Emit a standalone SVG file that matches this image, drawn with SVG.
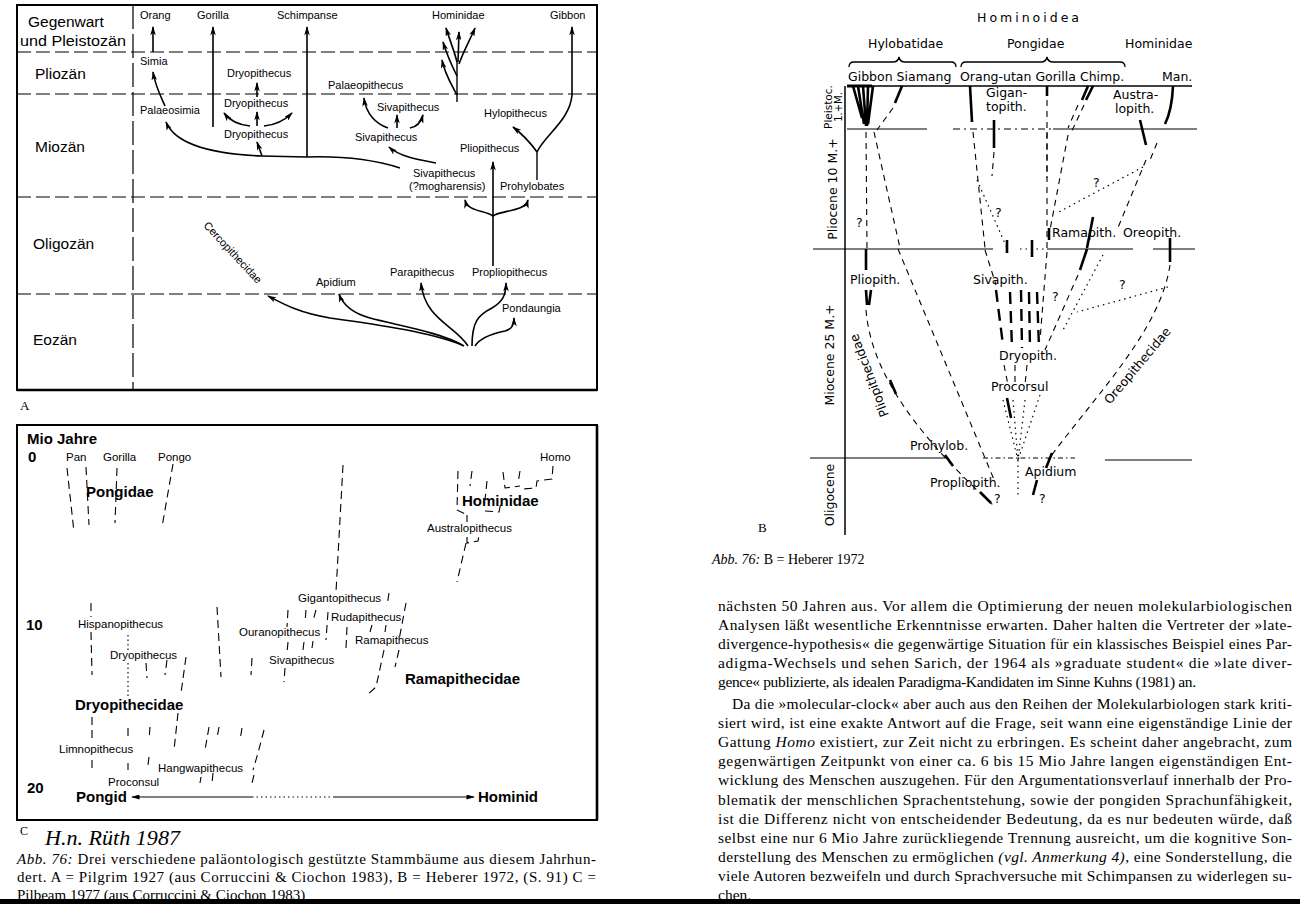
<svg xmlns="http://www.w3.org/2000/svg" width="1300" height="904" viewBox="0 0 1300 904">
<style>
text{fill:#000}
.sa{font-family:"Liberation Sans",Arial,sans-serif;font-size:11px}
.per{font-family:"Liberation Sans",Arial,sans-serif;font-size:15.5px}
.sc{font-family:"Liberation Sans",Arial,sans-serif;font-size:11.5px}
.bc{font-family:"Liberation Sans",Arial,sans-serif;font-size:15px;font-weight:bold}
.db{font-family:"DejaVu Sans",sans-serif;font-size:12.5px}
.se{font-family:"Liberation Serif","Times New Roman",serif}
.body{font-family:"Liberation Serif","Times New Roman",serif;font-size:15.5px}
.frame{fill:none;stroke:#000;stroke-width:2}
.perl{stroke:#000;stroke-width:1.2;stroke-dasharray:14 5;fill:none}
.ar{fill:none;stroke:#000;stroke-width:1.6;marker-end:url(#ah)}
.ln{fill:none;stroke:#000;stroke-width:1.4}
.cd{fill:none;stroke:#000;stroke-width:1.1;stroke-dasharray:8 5}
.cdot{fill:none;stroke:#000;stroke-width:1.1;stroke-dasharray:1.5 3}
.bd{fill:none;stroke:#000;stroke-width:1.1;stroke-dasharray:6 5}
.bdot{fill:none;stroke:#000;stroke-width:1.2;stroke-dasharray:1.5 4}
.bth{fill:none;stroke:#000;stroke-width:2.6}
.btd{fill:none;stroke:#000;stroke-width:2.4;stroke-dasharray:12 7}
</style>
<defs>
<marker id="ah" viewBox="0 0 10 6" refX="9" refY="3" markerWidth="10" markerHeight="5.5" markerUnits="userSpaceOnUse" orient="auto">
<path d="M0,0 L10,3 L0,6 L2.5,3 z" fill="#000"/>
</marker>
<marker id="ah2" viewBox="0 0 10 6" refX="9" refY="3" markerWidth="9" markerHeight="5" markerUnits="userSpaceOnUse" orient="auto-start-reverse">
<path d="M0,0 L10,3 L0,6 z" fill="#000"/>
</marker>
</defs>
<rect width="1300" height="904" fill="#fff"/>

<!-- ================= PANEL A ================= -->
<g id="panelA">
<rect x="17" y="5" width="580" height="385" class="frame"/>
<line x1="17" y1="390" x2="597" y2="390" stroke="#000" stroke-width="2.5"/>
<line x1="133" y1="5" x2="133" y2="390" stroke="#000" stroke-width="1.2" stroke-dasharray="24 5"/>
<g class="perl">
<line x1="17" y1="52" x2="597" y2="52"/>
<line x1="17" y1="94" x2="597" y2="94"/>
<line x1="17" y1="197" x2="597" y2="197"/>
<line x1="17" y1="294" x2="597" y2="294"/>
</g>
<g id="a-periods" class="per">
<text x="28" y="27">Gegenwart</text>
<text x="20" y="46" textLength="106" lengthAdjust="spacingAndGlyphs">und Pleistozän</text>
<text x="35" y="79">Pliozän</text>
<text x="35" y="152">Miozän</text>
<text x="33" y="249">Oligozän</text>
<text x="33" y="345">Eozän</text>
</g>
<g id="a-orang"><text class="sa" x="140" y="19">Orang</text></g>
<g id="a-gorilla"><text class="sa" x="197" y="19">Gorilla</text></g>
<g id="a-schimpanse"><text class="sa" x="277" y="19">Schimpanse</text></g>
<g id="a-hominidae"><text class="sa" x="432" y="19">Hominidae</text></g>
<g id="a-gibbon"><text class="sa" x="550" y="19">Gibbon</text></g>
<g id="a-simia"><text class="sa" x="140" y="65">Simia</text></g>
<g id="a-dryo1"><text class="sa" x="227" y="77">Dryopithecus</text></g>
<g id="a-palaeosimia"><text class="sa" x="140" y="114">Palaeosimia</text></g>
<g id="a-dryo2"><text class="sa" x="224" y="107">Dryopithecus</text></g>
<g id="a-dryo3"><text class="sa" x="224" y="138">Dryopithecus</text></g>
<g id="a-palaeopithecus"><text class="sa" x="328" y="89">Palaeopithecus</text></g>
<g id="a-siva1"><text class="sa" x="377" y="111">Sivapithecus</text></g>
<g id="a-siva2"><text class="sa" x="355" y="141">Sivapithecus</text></g>
<g id="a-hylopithecus"><text class="sa" x="484" y="117">Hylopithecus</text></g>
<g id="a-pliopithecus"><text class="sa" x="460" y="152">Pliopithecus</text></g>
<g id="a-siva3"><text class="sa" x="413" y="177">Sivapithecus</text><text class="sa" x="409" y="190">(?mogharensis)</text></g>
<g id="a-prohylobates"><text class="sa" x="500" y="190">Prohylobates</text></g>
<g id="a-cercopithecidae"><text class="sa" font-size="10.5" transform="translate(203,226) rotate(47)">Cercopithecidae</text></g>
<g id="a-apidium"><text class="sa" x="316" y="286">Apidium</text></g>
<g id="a-parapithecus"><text class="sa" x="390" y="276">Parapithecus</text></g>
<g id="a-propliopithecus"><text class="sa" x="472" y="276">Propliopithecus</text></g>
<g id="a-pondaungia"><text class="sa" x="502" y="312">Pondaungia</text></g>
<text class="se" font-size="13" x="20" y="410">A</text>
</g>
<g id="a-connectors">
<path class="ar" d="M153,52 L153,27"/>
<path class="ar" d="M213,127 L213,27"/>
<path class="ar" d="M307,157 L307,27"/>
<path class="ln" d="M537,180 L537,152"/>
<path class="ar" d="M537,152 C545,135 570,120 572,95 L572,27"/>
<path class="ar" d="M537,152 C530,142 522,134 513,127"/>
<path class="ar" d="M165,106 C160,95 155,85 153,72"/>
<path class="ar" d="M307,157 L262,156 C215,154 176,146 166,122"/>
<path class="ln" d="M307,157 C340,156 375,160 400,168"/>
<path class="ar" d="M262,156 L257,142"/>
<path class="ar" d="M257,126 L257,112"/>
<path class="ar" d="M250,126 C240,125 230,121 224,113"/>
<path class="ar" d="M264,126 C275,125 285,120 292,113"/>
<path class="ar" d="M257,97 L257,83"/>
<path class="ar" d="M388,128 C376,124 366,114 364,98"/>
<path class="ar" d="M397,128 L397,115"/>
<path class="ar" d="M410,128 C416,127 421,122 423,115"/>
<path class="ar" d="M436,163 C420,160 400,157 389,147"/>
<path class="ln" d="M457,102 L457,62"/>
<path class="ar" d="M457,95 C452,85 445,75 442,60"/>
<path class="ar" d="M457,76 C452,66 447,55 443,42"/>
<path class="ar" d="M457,62 C454,50 449,38 446,28"/>
<path class="ar" d="M458,62 L459,32"/>
<path class="ar" d="M459,64 C464,50 470,40 475,28"/>
<path class="ar" d="M493,266 L493,162"/>
<path class="ar" d="M493,216 C485,210 468,212 465,200"/>
<path class="ar" d="M493,216 C501,210 525,212 528,200"/>
<path class="ar" d="M462,345 C430,332 380,325 330,318 C300,313 285,305 268,296"/>
<path class="ar" d="M464,346 C440,332 400,326 370,318 C352,313 343,305 339,294"/>
<path class="ar" d="M468,346 C455,325 425,320 421,283"/>
<path class="ar" d="M472,346 C472,322 478,315 492,308 C502,302 506,296 506,283"/>
<path class="ar" d="M475,346 C480,338 490,334 505,331 C512,329 514,325 514,318"/>
</g>

<!-- ================= PANEL C ================= -->
<g id="panelC">
<rect x="17" y="425" width="580" height="395" class="frame"/>
<line x1="597" y1="425" x2="597" y2="820" stroke="#000" stroke-width="2.6"/>
<g id="c-axis" class="bc">
<text x="27" y="444">Mio Jahre</text>
<text x="28" y="462">0</text>
<text x="26" y="630">10</text>
<text x="27" y="793">20</text>
</g>
<g id="c-pan"><text class="sc" font-size="11" x="66" y="461">Pan</text></g>
<g id="c-gorilla"><text class="sc" font-size="11" x="103" y="461">Gorilla</text></g>
<g id="c-pongo"><text class="sc" font-size="11" x="158" y="461">Pongo</text></g>
<g id="c-pongidae"><text class="bc" x="86" y="497">Pongidae</text></g>
<g id="c-homo"><text class="sc" font-size="11" x="540" y="461">Homo</text></g>
<g id="c-hominidae"><text class="bc" x="462" y="506">Hominidae</text></g>
<g id="c-australopithecus"><text class="sc" x="427" y="532">Australopithecus</text></g>
<g id="c-gigantopithecus"><text class="sc" x="298" y="602">Gigantopithecus</text></g>
<g id="c-rudapithecus"><text class="sc" x="331" y="621">Rudapithecus</text></g>
<g id="c-ouranopithecus"><text class="sc" x="239" y="636">Ouranopithecus</text></g>
<g id="c-ramapithecus"><text class="sc" x="355" y="644">Ramapithecus</text></g>
<g id="c-hispanopithecus"><text class="sc" x="78" y="628">Hispanopithecus</text></g>
<g id="c-dryopithecus"><text class="sc" x="110" y="659">Dryopithecus</text></g>
<g id="c-sivapithecus"><text class="sc" x="269" y="664">Sivapithecus</text></g>
<g id="c-ramapithecidae"><text class="bc" x="405" y="684">Ramapithecidae</text></g>
<g id="c-dryopithecidae"><text class="bc" x="75" y="710">Dryopithecidae</text></g>
<g id="c-limnopithecus"><text class="sc" x="59" y="753">Limnopithecus</text></g>
<g id="c-hangwapithecus"><text class="sc" x="158" y="772">Hangwapithecus</text></g>
<g id="c-proconsul"><text class="sc" x="108" y="786">Proconsul</text></g>
<g id="c-pongid"><text class="bc" x="76" y="802">Pongid</text></g>
<g id="c-hominid"><text class="bc" x="478" y="802">Hominid</text></g>
<text class="se" font-size="12" x="20" y="835">C</text>
<text class="se" font-size="20" font-style="italic" x="45" y="845" textLength="135" lengthAdjust="spacingAndGlyphs">H.n. Rüth 1987</text>
</g>
<g id="c-connectors">
<path class="cd" d="M67,468 L74,532"/>
<path class="cd" d="M86,467 L89,525"/>
<path class="cd" d="M117,468 L115,523"/>
<path class="cd" d="M173,464 L162,527"/>
<path class="cd" d="M343,465 L336,592"/>
<path class="cd" d="M458,471 L457,510 L467,515"/>
<path class="cd" d="M472,471 L470,486"/>
<path class="cd" d="M487,481 L485,500"/>
<path class="cd" d="M485,511 L499,512 L501,502"/>
<path class="cd" d="M503,472 L505,488 L520,486"/>
<path class="cd" d="M520,471 L518,483"/>
<path class="cd" d="M553,466 L552,479 L537,481 L536,488 L522,489"/>
<path class="cd" d="M467,515 L467,522"/>
<path class="cd" d="M467,537 L467,543 L478,541 L479,535"/>
<path class="cd" d="M466,543 L457,582"/>
<path class="cd" d="M91,603 L91,617 M91,632 L92,675"/>
<path class="cdot" d="M128,635 L128,650 M128,663 L128,697"/>
<path class="cd" d="M146,663 L147,678"/>
<path class="cd" d="M167,660 L165,675"/>
<path class="cd" d="M186,657 L181,693"/>
<path class="cd" d="M217,607 L221,677"/>
<path class="cd" d="M252,658 L251,675"/>
<path class="cd" d="M288,610 L287,627 M288,642 L287,653 M285,668 L284,682"/>
<path class="cd" d="M306,610 L305,622 M316,610 L313,621 M304,642 L303,650 M313,641 L312,648"/>
<path class="cd" d="M328,612 L326,640"/>
<path class="cd" d="M347,627 L346,648"/>
<path class="cd" d="M389,593 L387,606"/>
<path class="cd" d="M372,625 L370,632 M386,625 L385,632"/>
<path class="cd" d="M406,603 L399,640"/>
<path class="cd" d="M384,650 L376,687 L366,696"/>
<path class="cd" d="M399,650 L395,667"/>
<path class="cd" d="M92,717 L92,743 M92,760 L92,772"/>
<path class="cd" d="M128,728 L128,740 M128,763 L128,770"/>
<path class="cd" d="M178,713 L174,750"/>
<path class="cd" d="M150,727 L149,740 M149,757 L148,765"/>
<path class="cd" d="M209,727 L205,750 M219,727 L217,738 M242,728 L240,740"/>
<path class="cd" d="M264,730 L258,753 L253,770"/>
<path class="cd" d="M201,777 L200,783 M213,773 L212,783 M254,775 L252,783"/>
<path fill="none" stroke="#000" stroke-width="1.2" marker-start="url(#ah2)" d="M132,797 L252,797"/>
<path class="cdot" d="M252,797 L333,797"/>
<path fill="none" stroke="#000" stroke-width="1.2" marker-end="url(#ah2)" d="M333,797 L474,797"/>
</g>
<g id="captionC" class="se" font-size="15">
<text x="17" y="864" textLength="579" lengthAdjust="spacing"><tspan font-style="italic">Abb. 76:</tspan> Drei verschiedene paläontologisch gestützte Stammbäume aus diesem Jahrhun-</text>
<text x="17" y="882" textLength="579" lengthAdjust="spacing">dert. A = Pilgrim 1927 (aus Corruccini &amp; Ciochon 1983), B = Heberer 1972, (S. 91) C =</text>
<text x="17" y="900">Pilbeam 1977 (aus Corruccini &amp; Ciochon 1983)</text>
</g>

<!-- ================= PANEL B ================= -->
<g id="panelB">
<g id="b-hominoidea"><text class="db" font-size="12" x="977" y="22" letter-spacing="3">Hominoidea</text></g>
<g id="b-hylobatidae"><text class="db" x="868" y="48">Hylobatidae</text></g>
<g id="b-pongidae"><text class="db" x="1007" y="48">Pongidae</text></g>
<g id="b-hominidae"><text class="db" x="1125" y="48">Hominidae</text></g>
<g id="b-braces" fill="none" stroke="#000" stroke-width="1.3">
<path d="M849,67 Q849,62 854,62 L893,62 Q898,62 899,57 Q900,62 905,62 L951,62 Q956,62 956,67"/>
<path d="M961,67 Q961,62 966,62 L1041,62 Q1046,62 1047,57 Q1048,62 1053,62 L1120,62 Q1125,62 1125,67"/>
</g>
<g id="b-gibbon"><text class="db" x="848" y="81">Gibbon Siamang</text></g>
<g id="b-pongids"><text class="db" x="960" y="81">Orang-utan Gorilla Chimp.</text></g>
<g id="b-man"><text class="db" x="1162" y="81">Man.</text></g>
<g id="b-scale" class="db" font-size="11.5">
<text font-size="10.5" text-anchor="middle" transform="translate(832,107) rotate(-90)">Pleistoc.</text>
<text font-size="10" text-anchor="middle" transform="translate(842,107) rotate(-90)">1.+M.</text>
<text text-anchor="middle" transform="translate(837,189) rotate(-90)">Pliocene 10 M.+</text>
<text text-anchor="middle" transform="translate(834,355) rotate(-90)">Miocene 25 M.+</text>
<text text-anchor="middle" transform="translate(834,495) rotate(-90)">Oligocene</text>
</g>
<g id="b-gigantopith"><text class="db" font-size="11.5" x="986" y="96.5">Gigan-</text><text class="db" font-size="11.5" x="986" y="110.5">topith.</text></g>
<g id="b-australopith"><text class="db" font-size="11.5" x="1113" y="98.5">Austra-</text><text class="db" font-size="11.5" x="1115" y="112.5">lopith.</text></g>
<g id="b-ramapith"><text class="db" x="1052" y="237">Ramapith.</text></g>
<g id="b-oreopith"><text class="db" x="1123" y="237">Oreopith.</text></g>
<g id="b-pliopith"><text class="db" x="850" y="284">Pliopith.</text></g>
<g id="b-sivapith"><text class="db" x="973" y="284">Sivapith.</text></g>
<g id="b-dryopith"><text class="db" x="999" y="360">Dryopith.</text></g>
<g id="b-procorsul"><text class="db" x="991" y="391">Procorsul</text></g>
<g id="b-prohylob"><text class="db" x="910" y="450">Prohylob.</text></g>
<g id="b-apidium"><text class="db" x="1025" y="476">Apidium</text></g>
<g id="b-propliopith"><text class="db" x="930" y="487">Propliopith.</text></g>
<g id="b-pliopithecidae"><text class="db" transform="translate(889,415) rotate(-111)">Pliopithecidae</text></g>
<g id="b-oreopithecidae"><text class="db" font-size="13" transform="translate(1110,405) rotate(-50)">Oreopithecidae</text></g>
<g id="b-q" class="db" font-size="12">
<text x="856" y="227">?</text>
<text x="995" y="217">?</text>
<text x="1093" y="187">?</text>
<text x="1052" y="301">?</text>
<text x="1119" y="289">?</text>
<text x="994" y="503">?</text>
<text x="1039" y="503">?</text>
</g>
<text class="se" font-size="13" x="758" y="532">B</text>
<text class="se" font-size="14" x="712" y="564"><tspan font-style="italic">Abb. 76:</tspan> B = Heberer 1972</text>
</g>
<g id="b-connectors">
<line x1="847" y1="86" x2="1192" y2="86" stroke="#000" stroke-width="1.3"/>
<line x1="847" y1="86" x2="872" y2="86" stroke="#000" stroke-width="3"/>
<line x1="847" y1="129" x2="927" y2="129" stroke="#000" stroke-width="1.2"/>
<line x1="953" y1="129" x2="1053" y2="129" stroke="#000" stroke-width="1.1" stroke-dasharray="7 4 2 4"/>
<line x1="1053" y1="129" x2="1197" y2="129" stroke="#000" stroke-width="1.2"/>
<line x1="813" y1="249" x2="993" y2="249" stroke="#000" stroke-width="1.2"/>
<line x1="1020" y1="249" x2="1046" y2="249" class="bdot"/>
<line x1="1047" y1="249" x2="1133" y2="249" stroke="#000" stroke-width="1.2"/>
<line x1="1153" y1="249" x2="1195" y2="249" stroke="#000" stroke-width="1.2"/>
<line x1="810" y1="458" x2="948" y2="458" stroke="#000" stroke-width="1.2"/>
<line x1="983" y1="458" x2="1075" y2="458" stroke="#000" stroke-width="1" stroke-dasharray="5 3 1.5 3"/>
<line x1="1105" y1="460" x2="1192" y2="460" stroke="#000" stroke-width="1.2"/>
<line x1="845" y1="86" x2="845" y2="535" stroke="#000" stroke-width="1.5"/>
<path class="bth" stroke-width="2" d="M853,86 L862,118 M858,86 L864,124 M863,86 L866,126 M868,86 L867,126 M873,86 L868,124"/>
<path class="bth" d="M902,86 L895,103"/>
<path class="bd" d="M893,108 L877,130"/>
<path class="bth" d="M970,86 L972,122"/>
<path class="bth" d="M994,120 L994,148"/>
<path class="bd" d="M994,152 L992,176"/>
<path class="bth" d="M1047,86 L1047,96"/>
<path class="bd" d="M1047,100 L1047,178"/>
<path class="bth" d="M1088,86 L1082,100 M1093,86 L1086,100"/>
<path class="bd" d="M1084,105 L1070,135 M1078,105 L1068,128"/>
<path class="bth" d="M1173,86 Q1172,110 1165,124"/>
<path class="bth" d="M1140,120 L1146,145"/>
<path class="bd" d="M1157,143 L1150,160"/>
<path class="bd" d="M866,132 L867,248"/>
<path class="bd" d="M874,132 L900,248"/>
<path class="bd" d="M973,132 L985,248"/>
<path class="bdot" d="M977,180 L1007,248"/>
<path class="bd" d="M1047,132 L1047,248"/>
<path class="bd" d="M1068,135 L1050,230"/>
<path class="bdot" d="M1143,167 L1057,213"/>
<path class="bd" d="M1146,160 L1117,230"/>
<path class="bth" d="M1093,217 L1087,248"/>
<path class="bth" d="M1170,238 L1170,262"/>
<path class="bth" d="M1049,228 L1049,240" stroke-width="1.5"/>
<path class="bth" d="M866,249 L866,270 M866,290 L867,305 M871,290 L869,305"/>
<path class="bd" d="M866,310 C870,360 900,420 993,505"/>
<path class="bth" d="M890,380 L896,394 M945,455 L953,466 M980,492 L991,503"/>
<path class="bd" d="M898,249 L995,482"/>
<path class="bth" d="M1007,240 L1007,253 M1032,240 L1032,257"/>
<path class="bd" d="M985,250 L996,285"/>
<path class="btd" d="M996,290 L1003,345 M1010,292 L1012,348 M1021,290 L1022,348 M1029,292 L1030,348 M1037,292 L1039,348"/>
<path class="bd" d="M1004,365 L1008,385 M1015,365 L1015,385 M1027,365 L1025,385"/>
<path class="bth" d="M1007,398 L1011,418"/>
<path class="bdot" d="M1003,400 L1018,460 M1013,400 L1018,460 M1025,400 L1018,460 M1040,395 L1018,460"/>
<path class="bdot" d="M1018,460 L1018,497"/>
<path class="bd" d="M1047,252 L1040,340"/>
<path class="bth" d="M1087,249 L1080,270"/>
<path class="bd" d="M1078,275 L1045,350"/>
<path class="bdot" d="M1168,287 L1077,312"/>
<path class="bdot" d="M1103,255 L1063,330"/>
<path class="bd" d="M1170,265 C1160,330 1100,390 1048,460"/>
<path class="bth" d="M1052,453 L1046,468"/>
<path class="bth" d="M1037,480 L1033,495"/>
</g>

<!-- ================= BODY TEXT ================= -->
<g id="bodytext" class="body">
<text x="718" y="611" textLength="574" lengthAdjust="spacing">nächsten 50 Jahren aus. Vor allem die Optimierung der neuen molekularbiologischen</text>
<text x="718" y="630.1" textLength="574" lengthAdjust="spacing">Analysen läßt wesentliche Erkenntnisse erwarten. Daher halten die Vertreter der »late-</text>
<text x="718" y="649.2" textLength="574" lengthAdjust="spacing">divergence-hypothesis« die gegenwärtige Situation für ein klassisches Beispiel eines Par-</text>
<text x="718" y="668.3" textLength="574" lengthAdjust="spacing">adigma-Wechsels und sehen Sarich, der 1964 als »graduate student« die »late diver-</text>
<text x="718" y="687.4" textLength="478" lengthAdjust="spacing">gence« publizierte, als idealen Paradigma-Kandidaten im Sinne Kuhns (1981) an.</text>
<text x="732" y="709" textLength="560" lengthAdjust="spacing">Da die »molecular-clock« aber auch aus den Reihen der Molekularbiologen stark kriti-</text>
<text x="718" y="728.1" textLength="574" lengthAdjust="spacing">siert wird, ist eine exakte Antwort auf die Frage, seit wann eine eigenständige Linie der</text>
<text x="718" y="747.2" textLength="574" lengthAdjust="spacing">Gattung <tspan font-style="italic">Homo</tspan> existiert, zur Zeit nicht zu erbringen. Es scheint daher angebracht, zum</text>
<text x="718" y="766.3" textLength="574" lengthAdjust="spacing">gegenwärtigen Zeitpunkt von einer ca. 6 bis 15 Mio Jahre langen eigenständigen Ent-</text>
<text x="718" y="785.4" textLength="574" lengthAdjust="spacing">wicklung des Menschen auszugehen. Für den Argumentationsverlauf innerhalb der Pro-</text>
<text x="718" y="804.5" textLength="574" lengthAdjust="spacing">blematik der menschlichen Sprachentstehung, sowie der pongiden Sprachunfähigkeit,</text>
<text x="718" y="823.6" textLength="574" lengthAdjust="spacing">ist die Differenz nicht von entscheidender Bedeutung, da es nur bedeuten würde, daß</text>
<text x="718" y="842.7" textLength="574" lengthAdjust="spacing">selbst eine nur 6 Mio Jahre zurückliegende Trennung ausreicht, um die kognitive Son-</text>
<text x="718" y="861.8" textLength="574" lengthAdjust="spacing">derstellung des Menschen zu ermöglichen <tspan font-style="italic">(vgl. Anmerkung 4)</tspan>, eine Sonderstellung, die</text>
<text x="718" y="880.9" textLength="574" lengthAdjust="spacing">viele Autoren bezweifeln und durch Sprachversuche mit Schimpansen zu widerlegen su-</text>
<text x="718" y="900">chen.</text>
</g>
<rect x="0" y="899" width="1300" height="5" fill="#000"/>
</svg>
